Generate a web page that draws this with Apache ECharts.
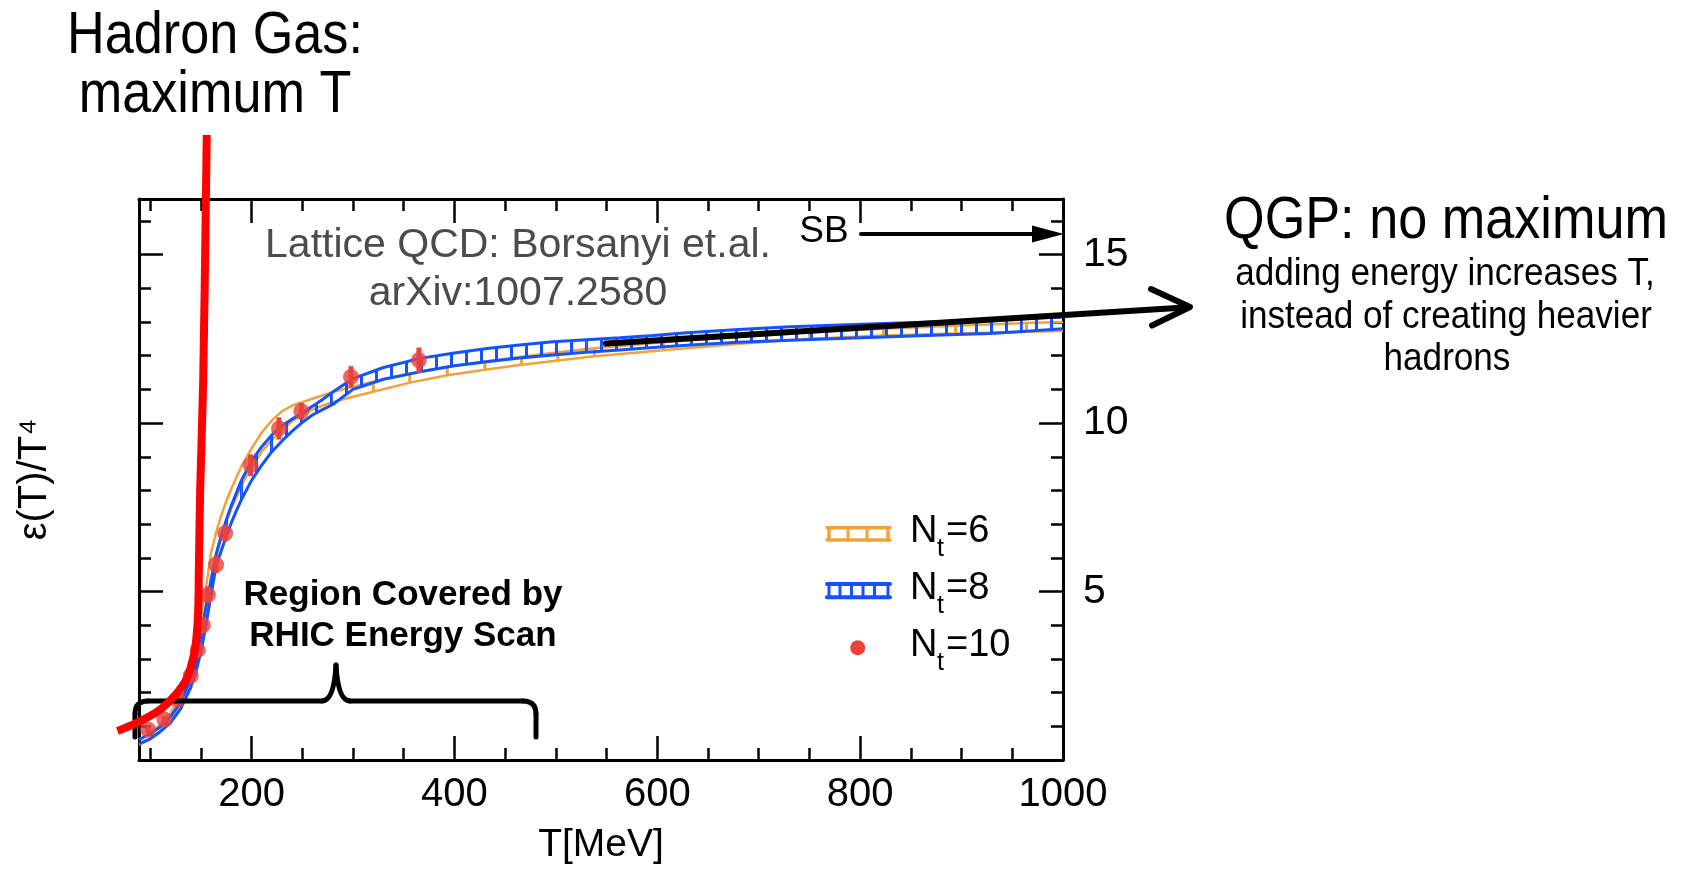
<!DOCTYPE html>
<html>
<head>
<meta charset="utf-8">
<script src="https://cdn.jsdelivr.net/npm/echarts@6/dist/echarts.min.js"></script>
<style>html,body{margin:0;padding:0;background:#fff}#c{width:1690px;height:869px}</style>
</head>
<body>
<div id="c"></div>
<script>
// ---------------- data ----------------
const xTickMinor = [100,150,200,250,300,350,400,450,500,550,600,650,700,750,800,850,900,950];
const xTickMajor = [200,400,600,800];
const xTickLabels = [200,400,600,800,1000];
const yTickMinor = [1,2,3,4,5,6,7,8,9,10,11,12,13,14,15,16];
const yTickMajor = [5,10,15];
const yTickLabels = [5,10,15];

// N_t = 8 band (blue)
const blueT  = [89,100,110,120,130,140,145,150,155,160,165,170,175,180,185,190,200,210,220,230,240,250,260,270,280,300,330,366,400,432,464,497,530,563,596,629,680,731,780,830,880,928,960,1000];
const blueHi = [0.6,0.78,0.98,1.28,1.72,2.4,2.95,3.7,4.55,5.35,6.1,6.65,7.12,7.55,7.92,8.3,8.88,9.3,9.65,9.92,10.12,10.3,10.5,10.7,10.92,11.32,11.65,11.92,12.08,12.21,12.32,12.41,12.47,12.53,12.6,12.68,12.78,12.86,12.91,12.96,13.01,13.06,13.1,13.15];
const blueLo = [0.48,0.63,0.84,1.1,1.52,2.15,2.6,3.2,4.0,4.9,5.75,6.2,6.63,7.04,7.4,7.73,8.3,8.75,9.15,9.47,9.76,10.02,10.24,10.4,10.55,11.0,11.3,11.52,11.7,11.82,11.93,12.02,12.1,12.17,12.24,12.31,12.4,12.46,12.51,12.56,12.61,12.66,12.72,12.8];

// N_t = 6 band (orange)
const orangeT  = [89,100,110,120,130,140,145,150,155,160,165,170,175,180,190,200,210,220,230,240,250,260,270,280,300,320,356,393,430,466,502,538,606,678,750,823,894,964,1000];
const orangeHi = [0.6,0.8,1.05,1.4,1.95,2.75,3.4,4.2,5.1,6.15,6.75,7.25,7.68,8.05,8.72,9.25,9.72,10.08,10.35,10.52,10.62,10.72,10.82,10.92,11.08,11.23,11.47,11.67,11.83,11.97,12.1,12.22,12.4,12.55,12.7,12.8,12.89,12.97,13.0];
const orangeLo = [0.45,0.62,0.85,1.15,1.6,2.25,2.8,3.5,4.3,5.2,6.0,6.6,7.05,7.45,8.15,8.7,9.15,9.5,9.8,10.05,10.25,10.4,10.52,10.62,10.78,10.93,11.2,11.42,11.58,11.73,11.86,11.98,12.16,12.35,12.5,12.6,12.66,12.71,12.73];
const orangeRungT = [320,356,393,430,466,502,538,606,678,750,823,894,964];

// N_t = 10 points (red)
const redT   = [98,114,127,140,147,152,157,165,174,199,227,249,298,365];
const redV   = [0.9,1.2,1.8,2.5,3.26,4.0,4.9,5.8,6.73,8.75,9.84,10.35,11.37,11.87];
const redErr = [0.1,0.1,0.12,0.15,0.2,0.25,0.25,0.25,0.25,0.32,0.33,0.25,0.32,0.37];

// Hadron gas curve (red line)
const hadronT = [67.8,84.6,99.4,112,124,134,140,144.5,147.2,148,149.3,152.3,155.8];
const hadronV = [0.86,1.07,1.3,1.55,1.9,2.3,2.75,3.35,4.3,5.6,8.0,11.28,18.55];

// ---------------- style ----------------
const FONT = "'Liberation Sans', Arial, Helvetica, sans-serif";
const BLUE = '#1352ff', ORANGE = '#f2a23a', RED_DOT = '#e8423b', RED_LINE = '#ff0000', GRAY = '#4b4b4b';
const X_MIN = 89, X_MAX = 1000, Y_MIN = 0, Y_MAX = 16.65;

const chart = echarts.init(document.getElementById('c'), null, {renderer: 'canvas'});

// vertical hatch pattern for the N_t=8 band
const pc = document.createElement('canvas');
pc.width = 15; pc.height = 8;
const pctx = pc.getContext('2d');
pctx.fillStyle = BLUE; pctx.fillRect(0, 0, 3, 8);
const hatch = {image: pc, repeat: 'repeat'};

const zip = (a, b) => a.map((v, i) => [v, b[i]]);

function xAxisDef(pos, ticks, len, line, labels, extra) {
  return Object.assign({
    type: 'value', position: pos, min: X_MIN, max: X_MAX, gridIndex: 0,
    axisLine: {show: line, onZero: false, lineStyle: {color: '#000', width: 3}},
    axisTick: {show: true, inside: true, length: len, customValues: ticks, lineStyle: {color: '#000', width: 2.5}},
    axisLabel: labels ? {show: true, customValues: labels, formatter: v => String(v), fontSize: 40, fontFamily: FONT, color: '#000', margin: 15} : {show: false},
    splitLine: {show: false}
  }, extra || {});
}
function yAxisDef(pos, ticks, len, line, labels, extra) {
  return Object.assign({
    type: 'value', position: pos, min: Y_MIN, max: Y_MAX, gridIndex: 0,
    axisLine: {show: line, onZero: false, lineStyle: {color: '#000', width: 3}},
    axisTick: {show: true, inside: true, length: len, customValues: ticks, lineStyle: {color: '#000', width: 2.5}},
    axisLabel: labels ? {show: true, customValues: labels, formatter: v => String(v), fontSize: 41, fontFamily: FONT, color: '#000', margin: 20} : {show: false},
    splitLine: {show: false}
  }, extra || {});
}

const blueSeg = blueT.slice(0, -1).map((t, i) => [t, blueLo[i], blueHi[i], blueT[i+1], blueLo[i+1], blueHi[i+1]]);
const orangeRungs = orangeRungT.map(t => { const i = orangeT.indexOf(t); return [t, orangeLo[i], orangeHi[i]]; });
const redBars = redT.map((t, i) => [t, redV[i] - redErr[i], redV[i] + redErr[i]]);

function txt(text, x, y, size, o) {
  o = o || {};
  return {type: 'text', x: x, y: y, z: 20, scaleX: o.sx || 1, scaleY: 1,
    style: {text: text, fontSize: size, fontFamily: FONT, fontWeight: o.bold ? 'bold' : 'normal',
      fill: o.color || '#000', align: o.align || 'center', verticalAlign: 'middle',
      textAlign: o.align || 'center', textVerticalAlign: 'middle'}};
}
function ln(x1, y1, x2, y2, c, w, z) {
  return {type: 'line', z: z || 20, shape: {x1, y1, x2, y2}, style: {stroke: c, lineWidth: w, lineCap: 'round'}};
}
function bz(x1, y1, cx, cy, x2, y2) {
  return {type: 'bezierCurve', z: 5, shape: {x1, y1, x2, y2, cpx1: cx, cpy1: cy}, style: {stroke: '#000', lineWidth: 5, fill: null, lineCap: 'round'}};
}

const graphics = [
  // titles / notes
  txt('Hadron Gas:', 215, 36, 60, {sx: 0.87}),
  txt('maximum T', 215, 95, 60, {sx: 0.87}),
  txt('QGP: no maximum', 1446, 221, 60, {sx: 0.87}),
  txt('adding energy increases T,', 1445, 274, 39, {sx: 0.9}),
  txt('instead of creating heavier', 1446, 317, 39, {sx: 0.9}),
  txt('hadrons', 1447, 359, 39, {sx: 0.9}),
  txt('Lattice QCD: Borsanyi et.al.', 518, 246, 41, {color: GRAY}),
  txt('arXiv:1007.2580', 518, 294, 41, {color: GRAY}),
  txt('Region Covered by', 403, 595, 35, {bold: true}),
  txt('RHIC Energy Scan', 403, 636, 35, {bold: true}),
  txt('SB', 824, 232, 37),
  // SB arrow
  ln(861, 234, 1036, 234, '#000', 4),
  {type: 'polygon', z: 20, shape: {points: [[1064, 234], [1032, 225.5], [1032, 242.5]]}, style: {fill: '#000'}},
  // QGP arrow
  ln(606, 343.5, 1189, 307.2, '#000', 6),
  {type: 'polyline', z: 20, shape: {points: [[1151, 289], [1190, 307], [1152, 325.5]]}, style: {stroke: '#000', lineWidth: 6, fill: null, lineCap: 'round', lineJoin: 'round'}},
  // brace
  ln(135, 737, 135, 714, '#000', 5, 5),
  bz(135, 714, 135, 701, 148, 701),
  ln(148, 701, 322, 701, '#000', 5, 5),
  bz(322, 701, 334, 701, 336, 665),
  bz(336, 665, 338, 701, 350, 701),
  ln(350, 701, 523, 701, '#000', 5, 5),
  bz(523, 701, 536, 701, 536, 714),
  ln(536, 714, 536, 737, '#000', 5, 5),
  // legend: N_t=6
  ln(827, 527.7, 890, 527.7, ORANGE, 3.5),
  ln(827, 540, 890, 540, ORANGE, 3.5),
  ln(829, 527.7, 829, 540, ORANGE, 3.5),
  ln(848, 527.7, 848, 540, ORANGE, 3),
  ln(867, 527.7, 867, 540, ORANGE, 3),
  ln(888, 527.7, 888, 540, ORANGE, 3.5),
  txt('N', 910, 532, 38, {align: 'left'}),
  txt('t', 937, 549, 25, {align: 'left'}),
  txt('=6', 946, 532, 38, {align: 'left'}),
  // legend: N_t=8
  ln(827, 584, 890, 584, BLUE, 4),
  ln(827, 597.3, 890, 597.3, BLUE, 4),
  ln(829, 584, 829, 597.3, BLUE, 3),
  ln(840, 584, 840, 597.3, BLUE, 3),
  ln(851.5, 584, 851.5, 597.3, BLUE, 3),
  ln(863, 584, 863, 597.3, BLUE, 3),
  ln(874.5, 584, 874.5, 597.3, BLUE, 3),
  ln(888, 584, 888, 597.3, BLUE, 3),
  txt('N', 910, 589, 38, {align: 'left'}),
  txt('t', 937, 606, 25, {align: 'left'}),
  txt('=8', 946, 589, 38, {align: 'left'}),
  // legend: N_t=10
  {type: 'circle', z: 20, shape: {cx: 857.7, cy: 647.7, r: 7.5}, style: {fill: RED_DOT}},
  txt('N', 910, 646, 38, {align: 'left'}),
  txt('t', 937, 663, 25, {align: 'left'}),
  txt('=10', 946, 646, 38, {align: 'left'})
];

const option = {
  animation: false,
  backgroundColor: '#fff',
  grid: {left: 139, top: 199, width: 924, height: 561, containLabel: false, outerBoundsMode: 'none'},
  xAxis: [
    xAxisDef('bottom', xTickMinor, 12, true, xTickLabels, {
      name: 'T[MeV]', nameLocation: 'middle', nameGap: 66,
      nameTextStyle: {fontSize: 39, fontFamily: FONT, color: '#000'}
    }),
    xAxisDef('bottom', xTickMajor, 24, false, null),
    xAxisDef('top', xTickMinor, 12, true, null),
    xAxisDef('top', xTickMajor, 24, false, null)
  ],
  yAxis: [
    yAxisDef('left', yTickMinor, 12, true, null, {
      name: 'ε(T)/T⁴', nameLocation: 'middle', nameGap: 84, nameRotate: 90,
      nameTextStyle: {fontSize: 40, fontFamily: FONT, color: '#000'}
    }),
    yAxisDef('left', yTickMajor, 24, false, null),
    yAxisDef('right', yTickMinor, 12, true, yTickLabels),
    yAxisDef('right', yTickMajor, 24, false, null)
  ],
  series: [
    {type: 'line', name: 'Nt=6 upper', data: zip(orangeT, orangeHi), showSymbol: false, symbol: 'none', z: 2,
      lineStyle: {color: ORANGE, width: 2.5}, silent: true},
    {type: 'line', name: 'Nt=6 lower', data: zip(orangeT, orangeLo), showSymbol: false, symbol: 'none', z: 2,
      lineStyle: {color: ORANGE, width: 2.5}, silent: true},
    {type: 'custom', name: 'Nt=6 rungs', coordinateSystem: 'cartesian2d', data: orangeRungs, z: 2,
      encode: {x: 0, y: [1, 2]},
      renderItem: function (params, api) {
        const a = api.coord([api.value(0), api.value(1)]);
        const b = api.coord([api.value(0), api.value(2)]);
        return {type: 'line', shape: {x1: a[0], y1: a[1], x2: b[0], y2: b[1]}, style: {stroke: ORANGE, lineWidth: 3}};
      }},
    {type: 'custom', name: 'Nt=8 hatch', coordinateSystem: 'cartesian2d', data: blueSeg, z: 3,
      encode: {x: [0, 3], y: [1, 2, 4, 5]},
      renderItem: function (params, api) {
        const p1 = api.coord([api.value(0), api.value(2)]);
        const p2 = api.coord([api.value(3), api.value(5)]);
        const p3 = api.coord([api.value(3), api.value(4)]);
        const p4 = api.coord([api.value(0), api.value(1)]);
        return {type: 'polygon', shape: {points: [p1, p2, p3, p4]}, style: {fill: hatch, stroke: null}};
      }},
    {type: 'line', name: 'Nt=8 upper', data: zip(blueT, blueHi), showSymbol: false, symbol: 'none', z: 3,
      lineStyle: {color: BLUE, width: 3}, silent: true},
    {type: 'line', name: 'Nt=8 lower', data: zip(blueT, blueLo), showSymbol: false, symbol: 'none', z: 3,
      lineStyle: {color: BLUE, width: 3}, silent: true},
    {type: 'custom', name: 'Nt=10 errors', coordinateSystem: 'cartesian2d', data: redBars, z: 4,
      encode: {x: 0, y: [1, 2]},
      renderItem: function (params, api) {
        const a = api.coord([api.value(0), api.value(1)]);
        const b = api.coord([api.value(0), api.value(2)]);
        return {type: 'line', shape: {x1: a[0], y1: a[1], x2: b[0], y2: b[1]}, style: {stroke: RED_DOT, lineWidth: 5}};
      }},
    {type: 'scatter', name: 'Nt=10', data: zip(redT, redV), symbol: 'circle', symbolSize: 16, z: 4,
      itemStyle: {color: RED_DOT}},
    {type: 'custom', name: 'Hadron gas', coordinateSystem: 'cartesian2d', data: zip(hadronT, hadronV), z: 6,
      clip: false, silent: true, encode: {x: 0, y: 1},
      renderItem: function (params, api) {
        if (params.dataIndex !== 0) return null;
        const pts = hadronT.map((t, i) => api.coord([t, hadronV[i]]));
        return {type: 'polyline', shape: {points: pts, smooth: 0.35},
          style: {stroke: RED_LINE, lineWidth: 8, fill: null, lineJoin: 'round', lineCap: 'butt'}};
      }}
  ],
  graphic: {elements: graphics}
};
chart.setOption(option);
</script>
</body>
</html>
